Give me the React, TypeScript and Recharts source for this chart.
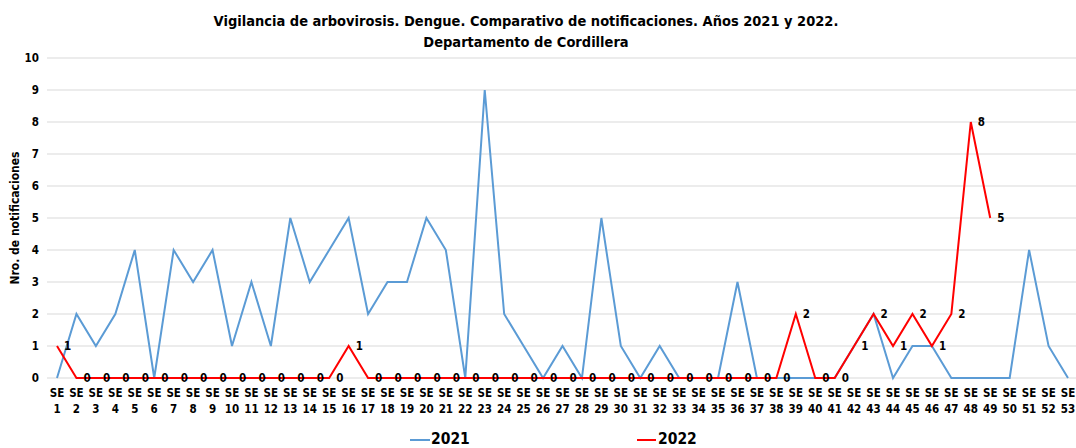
import React from 'react';
import { LineChart, Line, XAxis, YAxis, CartesianGrid, Legend, LabelList } from 'recharts';

const weeks = ['1','2','3','4','5','6','7','8','9','10','11','12','13','14','15','16','17','18','19','20','21','22','23','24','25','26','27','28','29','30','31','32','33','34','35','36','37','38','39','40','41','42','43','44','45','46','47','48','49','50','51','52','53'];
const cases2021 = [0,2,1,2,4,0,4,3,4,1, 3,1,5,3,4,5,2,3,3,5, 4,0,9,2,1,0,1,0,5,1, 0,1,0,0,0,3,0,0,0,0, 0,1,2,0,1,1,0,0,0,0, 4,1,0];
const cases2022 = [1,0,0,0,0,0,0,0,0,0, 0,0,0,0,0,1,0,0,0,0, 0,0,0,0,0,0,0,0,0,0, 0,0,0,0,0,0,0,0,2,0, 0,1,2,1,2,1,2,8,5];
const yTicks = [0,1,2,3,4,5,6,7,8,9,10];
const titleLines = ['Vigilancia de arbovirosis. Dengue. Comparativo de notificaciones. Años 2021 y 2022.', 'Departamento de Cordillera'];
const yLabel = 'Nro. de notificaciones';
const seriesNames = ['2021', '2022'];

const data = weeks.map((w, i) => ({
  week: w,
  y2021: cases2021[i],
  y2022: i < cases2022.length ? cases2022[i] : null,
}));

const FONT = '"DejaVu Sans Condensed", "DejaVu Sans", sans-serif';
const BLUE = '#5B9BD5';
const RED = '#FF0000';

const XTick = (props: any) => {
  const { x, y, payload } = props;
  return (
    <text x={x} y={y} textAnchor="middle" fontFamily={FONT} fontWeight="bold" fontSize={11.5} fill="#000">
      <tspan x={x} dy={11}>SE</tspan>
      <tspan x={x} dy={16}>{payload.value}</tspan>
    </text>
  );
};

const PointLabel = (props: any) => {
  const { x, y, value } = props;
  if (value === null || value === undefined) return null;
  return (
    <text x={x + 7} y={y + 4} textAnchor="start" fontFamily={FONT} fontWeight="bold" fontSize={11.5} fill="#000">
      {value}
    </text>
  );
};

const LegendContent = () => (
  <div style={{ position: 'relative', height: 20, fontFamily: FONT, fontWeight: 'bold', fontSize: 15.5 }}>
    <div style={{ position: 'absolute', left: 402, top: 11, width: 20, height: 2, background: BLUE }} />
    <div style={{ position: 'absolute', left: 423, top: 2, lineHeight: '18px' }}>{seriesNames[0]}</div>
    <div style={{ position: 'absolute', left: 629, top: 11, width: 19, height: 2, background: RED }} />
    <div style={{ position: 'absolute', left: 650, top: 2, lineHeight: '18px' }}>{seriesNames[1]}</div>
  </div>
);

const YLabel = () => {
  const cx = 7;
  const cy = 210;
  return (
    <text x={cx} y={cy} transform={`rotate(-90, ${cx}, ${cy})`} textAnchor="middle" dominantBaseline="central"
      fontFamily={FONT} fontWeight="bold" fontSize={12} fill="#000">
      {yLabel}
    </text>
  );
};

export default function App() {
  return (
    <div style={{ width: 1076, height: 448, boxSizing: 'border-box', padding: '8px 0 0 8px', overflow: 'hidden' }}>
      <style>{'html, body { margin: 0; padding: 0; }'}</style>
      <div style={{ position: 'relative', width: 1068, height: 440 }}>
        <LineChart width={1068} height={440} data={data} margin={{ top: 50, right: 0, bottom: 0, left: 0 }}>
          <CartesianGrid horizontal vertical={false} stroke="#D9D9D9" strokeWidth={1} />
          <XAxis dataKey="week" scale="point" padding={{ left: 10, right: 8 }} axisLine={false} tickLine={false}
            interval={0} height={50} tick={<XTick />} />
          <YAxis domain={[0, 10]} ticks={yTicks} width={39} axisLine={false} tickLine={false} interval={0}
            tick={{ fill: '#000', fontSize: 11.5, fontWeight: 'bold', fontFamily: FONT }} label={<YLabel />} />
          <Legend verticalAlign="bottom" height={20} content={<LegendContent />} />
          <Line type="linear" dataKey="y2021" name={seriesNames[0]} stroke={BLUE} strokeWidth={2} dot={false}
            isAnimationActive={false} />
          <Line type="linear" dataKey="y2022" name={seriesNames[1]} stroke={RED} strokeWidth={2} dot={false}
            isAnimationActive={false} connectNulls={false}>
            <LabelList dataKey="y2022" content={<PointLabel />} />
          </Line>
        </LineChart>
        <svg width={1068} height={60} style={{ position: 'absolute', left: 0, top: 0, pointerEvents: 'none' }}>
          <text x={518} y={18} textAnchor="middle" fontFamily={FONT} fontWeight="bold" fontSize={14.5} fill="#000">
            {titleLines[0]}
          </text>
          <text x={518} y={38.5} textAnchor="middle" fontFamily={FONT} fontWeight="bold" fontSize={14.5} fill="#000">
            {titleLines[1]}
          </text>
        </svg>
      </div>
    </div>
  );
}
